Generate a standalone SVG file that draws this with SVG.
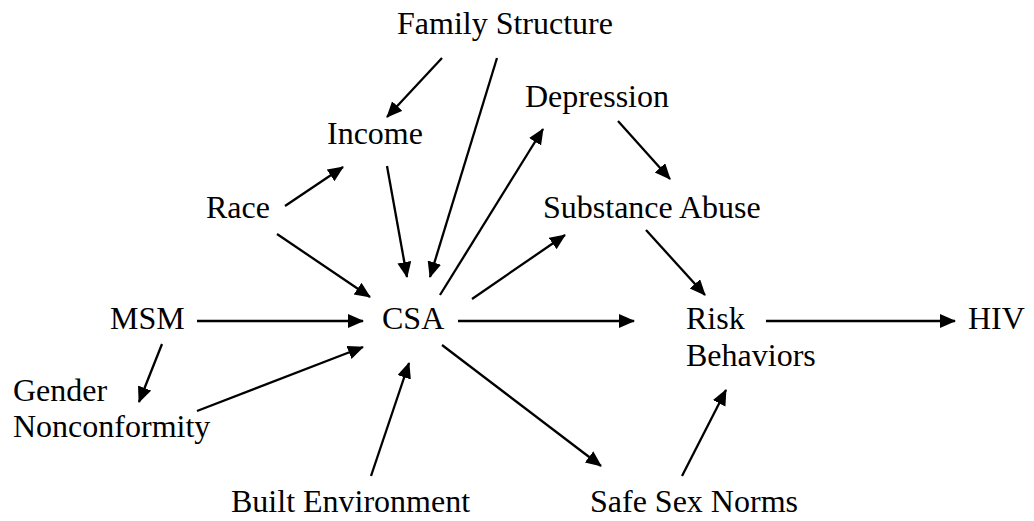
<svg xmlns="http://www.w3.org/2000/svg" width="1034" height="521" viewBox="0 0 1034 521">
<defs>
<marker id="ah" markerUnits="userSpaceOnUse" markerWidth="18" markerHeight="16" refX="15" refY="7" orient="auto">
<path d="M0,0 L16,7 L0,14 z" fill="#000"/>
</marker>
<style>
text{font-family:"Liberation Serif","Times New Roman",serif;font-size:32px;fill:#000}
.c line{stroke:#000;stroke-width:2.3;marker-end:url(#ah)}
</style>
</defs>
<rect width="1034" height="521" fill="#fff"/>
<g class="c" id="connectors">
<line x1="442" y1="58" x2="387" y2="117"/>
<line x1="497" y1="58" x2="430" y2="277"/>
<line x1="387" y1="166" x2="407" y2="277"/>
<line x1="285" y1="206" x2="343" y2="167"/>
<line x1="277" y1="234" x2="370" y2="297"/>
<line x1="440" y1="295" x2="543" y2="129"/>
<line x1="618" y1="121" x2="670" y2="179"/>
<line x1="472" y1="299" x2="565" y2="235"/>
<line x1="646" y1="230" x2="705" y2="295"/>
<line x1="458" y1="321" x2="634" y2="321"/>
<line x1="766" y1="321" x2="955" y2="321"/>
<line x1="442" y1="345" x2="601" y2="466"/>
<line x1="682" y1="476" x2="726" y2="390"/>
<line x1="197" y1="321" x2="363" y2="321"/>
<line x1="162" y1="344" x2="139" y2="402"/>
<line x1="197" y1="411" x2="363" y2="347"/>
<line x1="371" y1="476" x2="409" y2="363"/>
</g>
<g id="family"><text x="397" y="34">Family Structure</text></g>
<g id="depression"><text x="525" y="107">Depression</text></g>
<g id="income"><text x="327" y="144">Income</text></g>
<g id="race"><text x="206" y="218">Race</text></g>
<g id="substance"><text x="543" y="218">Substance Abuse</text></g>
<g id="msm"><text x="110" y="329">MSM</text></g>
<g id="csa"><text x="382" y="329">CSA</text></g>
<g id="risk"><text x="686" y="329">Risk</text><text x="686" y="366">Behaviors</text></g>
<g id="hiv"><text x="968" y="329">HIV</text></g>
<g id="gender"><text x="13" y="401">Gender</text><text x="13" y="437">Nonconformity</text></g>
<g id="built"><text x="231" y="512">Built Environment</text></g>
<g id="safesex"><text x="590" y="512">Safe Sex Norms</text></g>
</svg>
